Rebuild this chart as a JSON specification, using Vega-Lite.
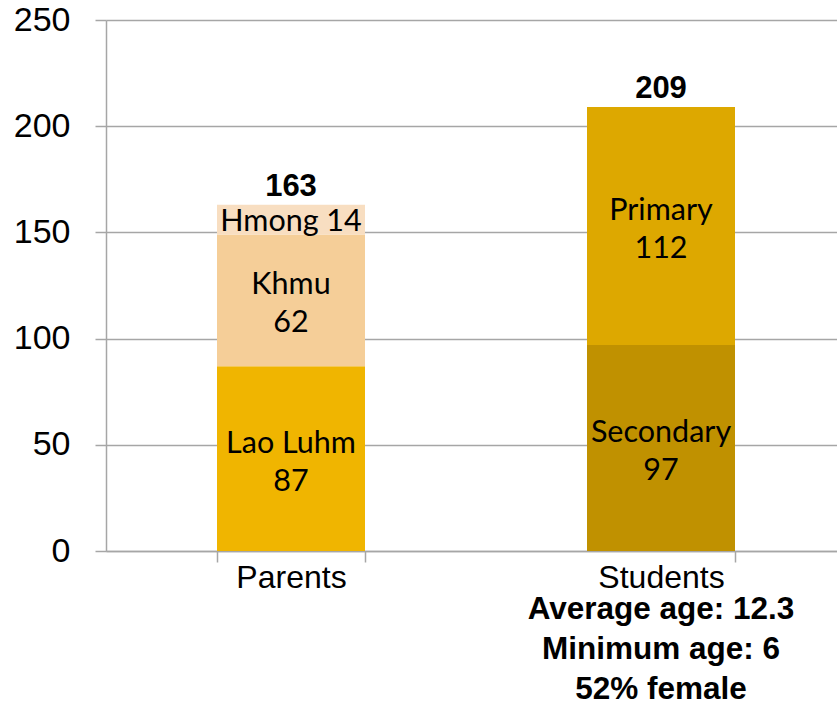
{
  "$schema": "https://vega.github.io/schema/vega-lite/v6.json",
  "width": 731,
  "height": 531,
  "autosize": {"type": "none"},
  "padding": {"left": 106, "top": 20, "right": 0, "bottom": 151},
  "background": "white",
  "config": {"view": {"stroke": null}, "font": "Liberation Sans"},
  "data": {
    "values": [
      {"group": "Parents", "segment": "Lao Luhm", "value": 87, "label": "Lao Luhm\n87"},
      {"group": "Parents", "segment": "Khmu", "value": 62, "label": "Khmu\n62"},
      {"group": "Parents", "segment": "Hmong", "value": 14, "label": "Hmong 14"},
      {"group": "Students", "segment": "Secondary", "value": 97, "label": "Secondary\n97"},
      {"group": "Students", "segment": "Primary", "value": 112, "label": "Primary\n112"}
    ]
  },
  "encoding": {
    "x": {
      "field": "group",
      "type": "nominal",
      "sort": ["Parents", "Students"],
      "scale": {"range": [0, 740], "paddingInner": 0.6, "paddingOuter": 0.3},
      "axis": {
        "title": null,
        "labelAngle": 0,
        "labelFontSize": 32,
        "labelColor": "black",
        "labelFont": "Liberation Sans",
        "tickBand": "extent",
        "tickSize": 11,
        "tickColor": "#A6A6A6",
        "tickWidth": 1.5,
        "domainColor": "#A6A6A6",
        "domainWidth": 1.5,
        "labelPadding": 0,
        "labelBaseline": "top"
      }
    }
  },
  "layer": [
    {
      "transform": [{"stack": "value", "groupby": ["group"], "as": ["y0", "y1"]}],
      "mark": {"type": "bar"},
      "encoding": {
        "y": {
          "field": "y0",
          "type": "quantitative",
          "scale": {"domain": [0, 250], "nice": false},
          "axis": {
            "title": null,
            "values": [0, 50, 100, 150, 200, 250],
            "grid": true,
            "gridColor": "#A6A6A6",
            "gridWidth": 1.5,
            "domainColor": "#A6A6A6",
            "domainWidth": 1.5,
            "tickColor": "#A6A6A6",
            "tickWidth": 1.5,
            "tickSize": 11,
            "labelFontSize": 34,
            "labelColor": "black",
            "labelFont": "Liberation Sans",
            "labelPadding": 25
          }
        },
        "y2": {"field": "y1"},
        "color": {
          "field": "segment",
          "type": "nominal",
          "scale": {
            "domain": ["Lao Luhm", "Khmu", "Hmong", "Secondary", "Primary"],
            "range": ["#F0B500", "#F5CE98", "#F8DEC1", "#C09100", "#DDA800"]
          },
          "legend": null
        }
      }
    },
    {
      "transform": [
        {"stack": "value", "groupby": ["group"], "as": ["y0", "y1"]},
        {"calculate": "(datum.y0 + datum.y1) / 2", "as": "ymid"},
        {"filter": "datum.segment != 'Hmong'"}
      ],
      "mark": {"type": "text", "font": "Lato", "fontSize": 30.5, "lineBreak": "\n", "lineHeight": 38, "baseline": "middle", "dy": -15, "color": "black"},
      "encoding": {
        "y": {"field": "ymid", "type": "quantitative"},
        "text": {"field": "label"}
      }
    },
    {
      "transform": [
        {"stack": "value", "groupby": ["group"], "as": ["y0", "y1"]},
        {"calculate": "(datum.y0 + datum.y1) / 2", "as": "ymid"},
        {"filter": "datum.segment == 'Hmong'"}
      ],
      "mark": {"type": "text", "font": "Lato", "fontSize": 30.5, "baseline": "middle", "dy": 2, "color": "black"},
      "encoding": {
        "y": {"field": "ymid", "type": "quantitative"},
        "text": {"field": "label"}
      }
    },
    {
      "mark": {"type": "text", "fontWeight": "bold", "fontSize": 31, "baseline": "alphabetic", "dy": -9, "color": "black", "font": "Liberation Sans"},
      "encoding": {
        "y": {"aggregate": "sum", "field": "value", "type": "quantitative"},
        "text": {"aggregate": "sum", "field": "value", "type": "quantitative"}
      }
    },
    {
      "data": {"values": [{"group": "Students", "note": "Average age: 12.3\nMinimum age: 6\n52% female"}]},
      "mark": {"type": "text", "fontWeight": "bold", "fontSize": 31.5, "baseline": "alphabetic", "dy": 68, "lineBreak": "\n", "lineHeight": 40, "color": "black", "font": "Liberation Sans"},
      "encoding": {
        "y": {"datum": 0, "type": "quantitative"},
        "text": {"field": "note"}
      }
    }
  ]
}
